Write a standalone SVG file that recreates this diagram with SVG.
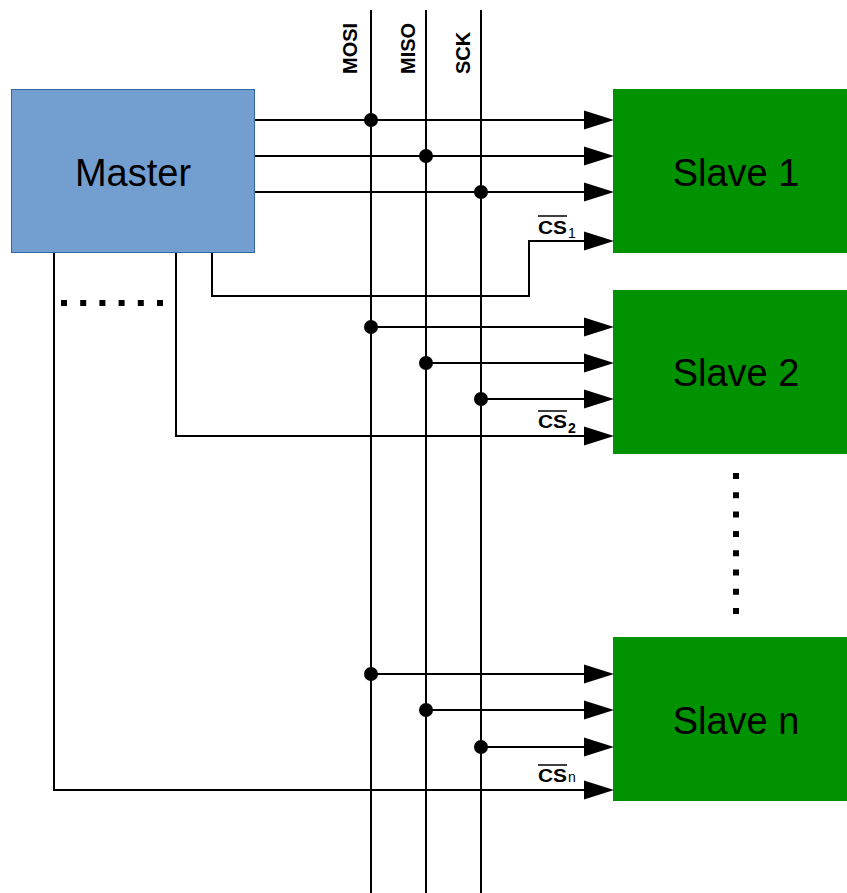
<svg xmlns="http://www.w3.org/2000/svg" width="847" height="893" viewBox="0 0 847 893">
<defs>
<style>
.w{stroke:#000;stroke-width:2;fill:none}
.a{stroke:#000;stroke-width:2;fill:none;marker-end:url(#arr)}
.bus{font-family:"Liberation Sans",Arial,sans-serif;font-weight:bold;font-size:20px;fill:#000}
.big{font-family:"Liberation Sans",Arial,sans-serif;font-size:38px;fill:#000;text-anchor:middle}
.cs{font-family:"Liberation Sans",Arial,sans-serif;font-weight:bold;font-size:18px;fill:#000}
.sub{font-family:"Liberation Sans",Arial,sans-serif;font-size:14px;fill:#000}
.ol{stroke:#000;stroke-width:1.5}
.slave{fill:#009200}
</style>
<marker id="arr" markerUnits="userSpaceOnUse" markerWidth="30" markerHeight="20" refX="0" refY="9.5" orient="auto" overflow="visible">
<path d="M0,0 L30,9.5 L0,19 z" fill="#000"/>
</marker>
</defs>
<g id="master">
<rect x="11.5" y="89.5" width="243" height="163" fill="#729fcf" stroke="#3465a4" stroke-width="1"/>
<text class="big" x="133" y="186">Master</text>
</g>
<g id="slave1">
<rect class="slave" x="613" y="89" width="234" height="164"/>
<text class="big" x="736" y="186">Slave 1</text>
</g>
<g id="slave2">
<rect class="slave" x="613" y="290" width="234" height="164"/>
<text class="big" x="736" y="386">Slave 2</text>
</g>
<g id="slaven">
<rect class="slave" x="613" y="637" width="234" height="164"/>
<text class="big" x="736" y="734">Slave n</text>
</g>
<g id="bus-labels">
<text class="bus" transform="translate(357,74) rotate(-90)">MOSI</text>
<text class="bus" transform="translate(415,74) rotate(-90)">MISO</text>
<text class="bus" transform="translate(470,74) rotate(-90)">SCK</text>
</g>
<g id="connectors">
<line class="w" x1="371" y1="10" x2="371" y2="893"/>
<line class="w" x1="426" y1="10" x2="426" y2="893"/>
<line class="w" x1="481" y1="10" x2="481" y2="893"/>
<line class="a" x1="255" y1="120" x2="584" y2="120"/>
<line class="a" x1="255" y1="156" x2="584" y2="156"/>
<line class="a" x1="255" y1="192" x2="584" y2="192"/>
<polyline class="a" points="212,253 212,296 529,296 529,241 584,241"/>
<line class="a" x1="371" y1="327" x2="584" y2="327"/>
<line class="a" x1="426" y1="363" x2="584" y2="363"/>
<line class="a" x1="481" y1="399" x2="584" y2="399"/>
<polyline class="a" points="176,253 176,436 584,436"/>
<line class="a" x1="371" y1="674" x2="584" y2="674"/>
<line class="a" x1="426" y1="710" x2="584" y2="710"/>
<line class="a" x1="481" y1="747" x2="584" y2="747"/>
<polyline class="a" points="54,253 54,790 584,790"/>
<g fill="#000">
<circle cx="371" cy="120" r="7"/>
<circle cx="426" cy="156" r="7"/>
<circle cx="481" cy="192" r="7"/>
<circle cx="371" cy="327" r="7"/>
<circle cx="426" cy="363" r="7"/>
<circle cx="481" cy="399" r="7"/>
<circle cx="371" cy="674" r="7"/>
<circle cx="426" cy="710" r="7"/>
<circle cx="481" cy="747" r="7"/>
</g>
</g>
<g id="cs-labels">
<text class="cs" x="538" y="234" textLength="29" lengthAdjust="spacingAndGlyphs">CS</text><text class="sub" x="568" y="238">1</text>
<line class="ol" x1="538" y1="216" x2="567" y2="216"/>
<text class="cs" x="538" y="428" textLength="29" lengthAdjust="spacingAndGlyphs">CS</text><text class="sub" x="568" y="433" font-weight="bold">2</text>
<line class="ol" x1="538" y1="411" x2="567" y2="411"/>
<text class="cs" x="538" y="782" textLength="29" lengthAdjust="spacingAndGlyphs">CS</text><text class="sub" x="568" y="782">n</text>
<line class="ol" x1="538" y1="765" x2="567" y2="765"/>
</g>
<g id="ellipses">
<line x1="61" y1="303" x2="166" y2="303" stroke="#000" stroke-width="6" stroke-dasharray="6 13.2"/>
<line x1="736" y1="473" x2="736" y2="615" stroke="#000" stroke-width="6" stroke-dasharray="6 13.3"/>
</g>
</svg>
